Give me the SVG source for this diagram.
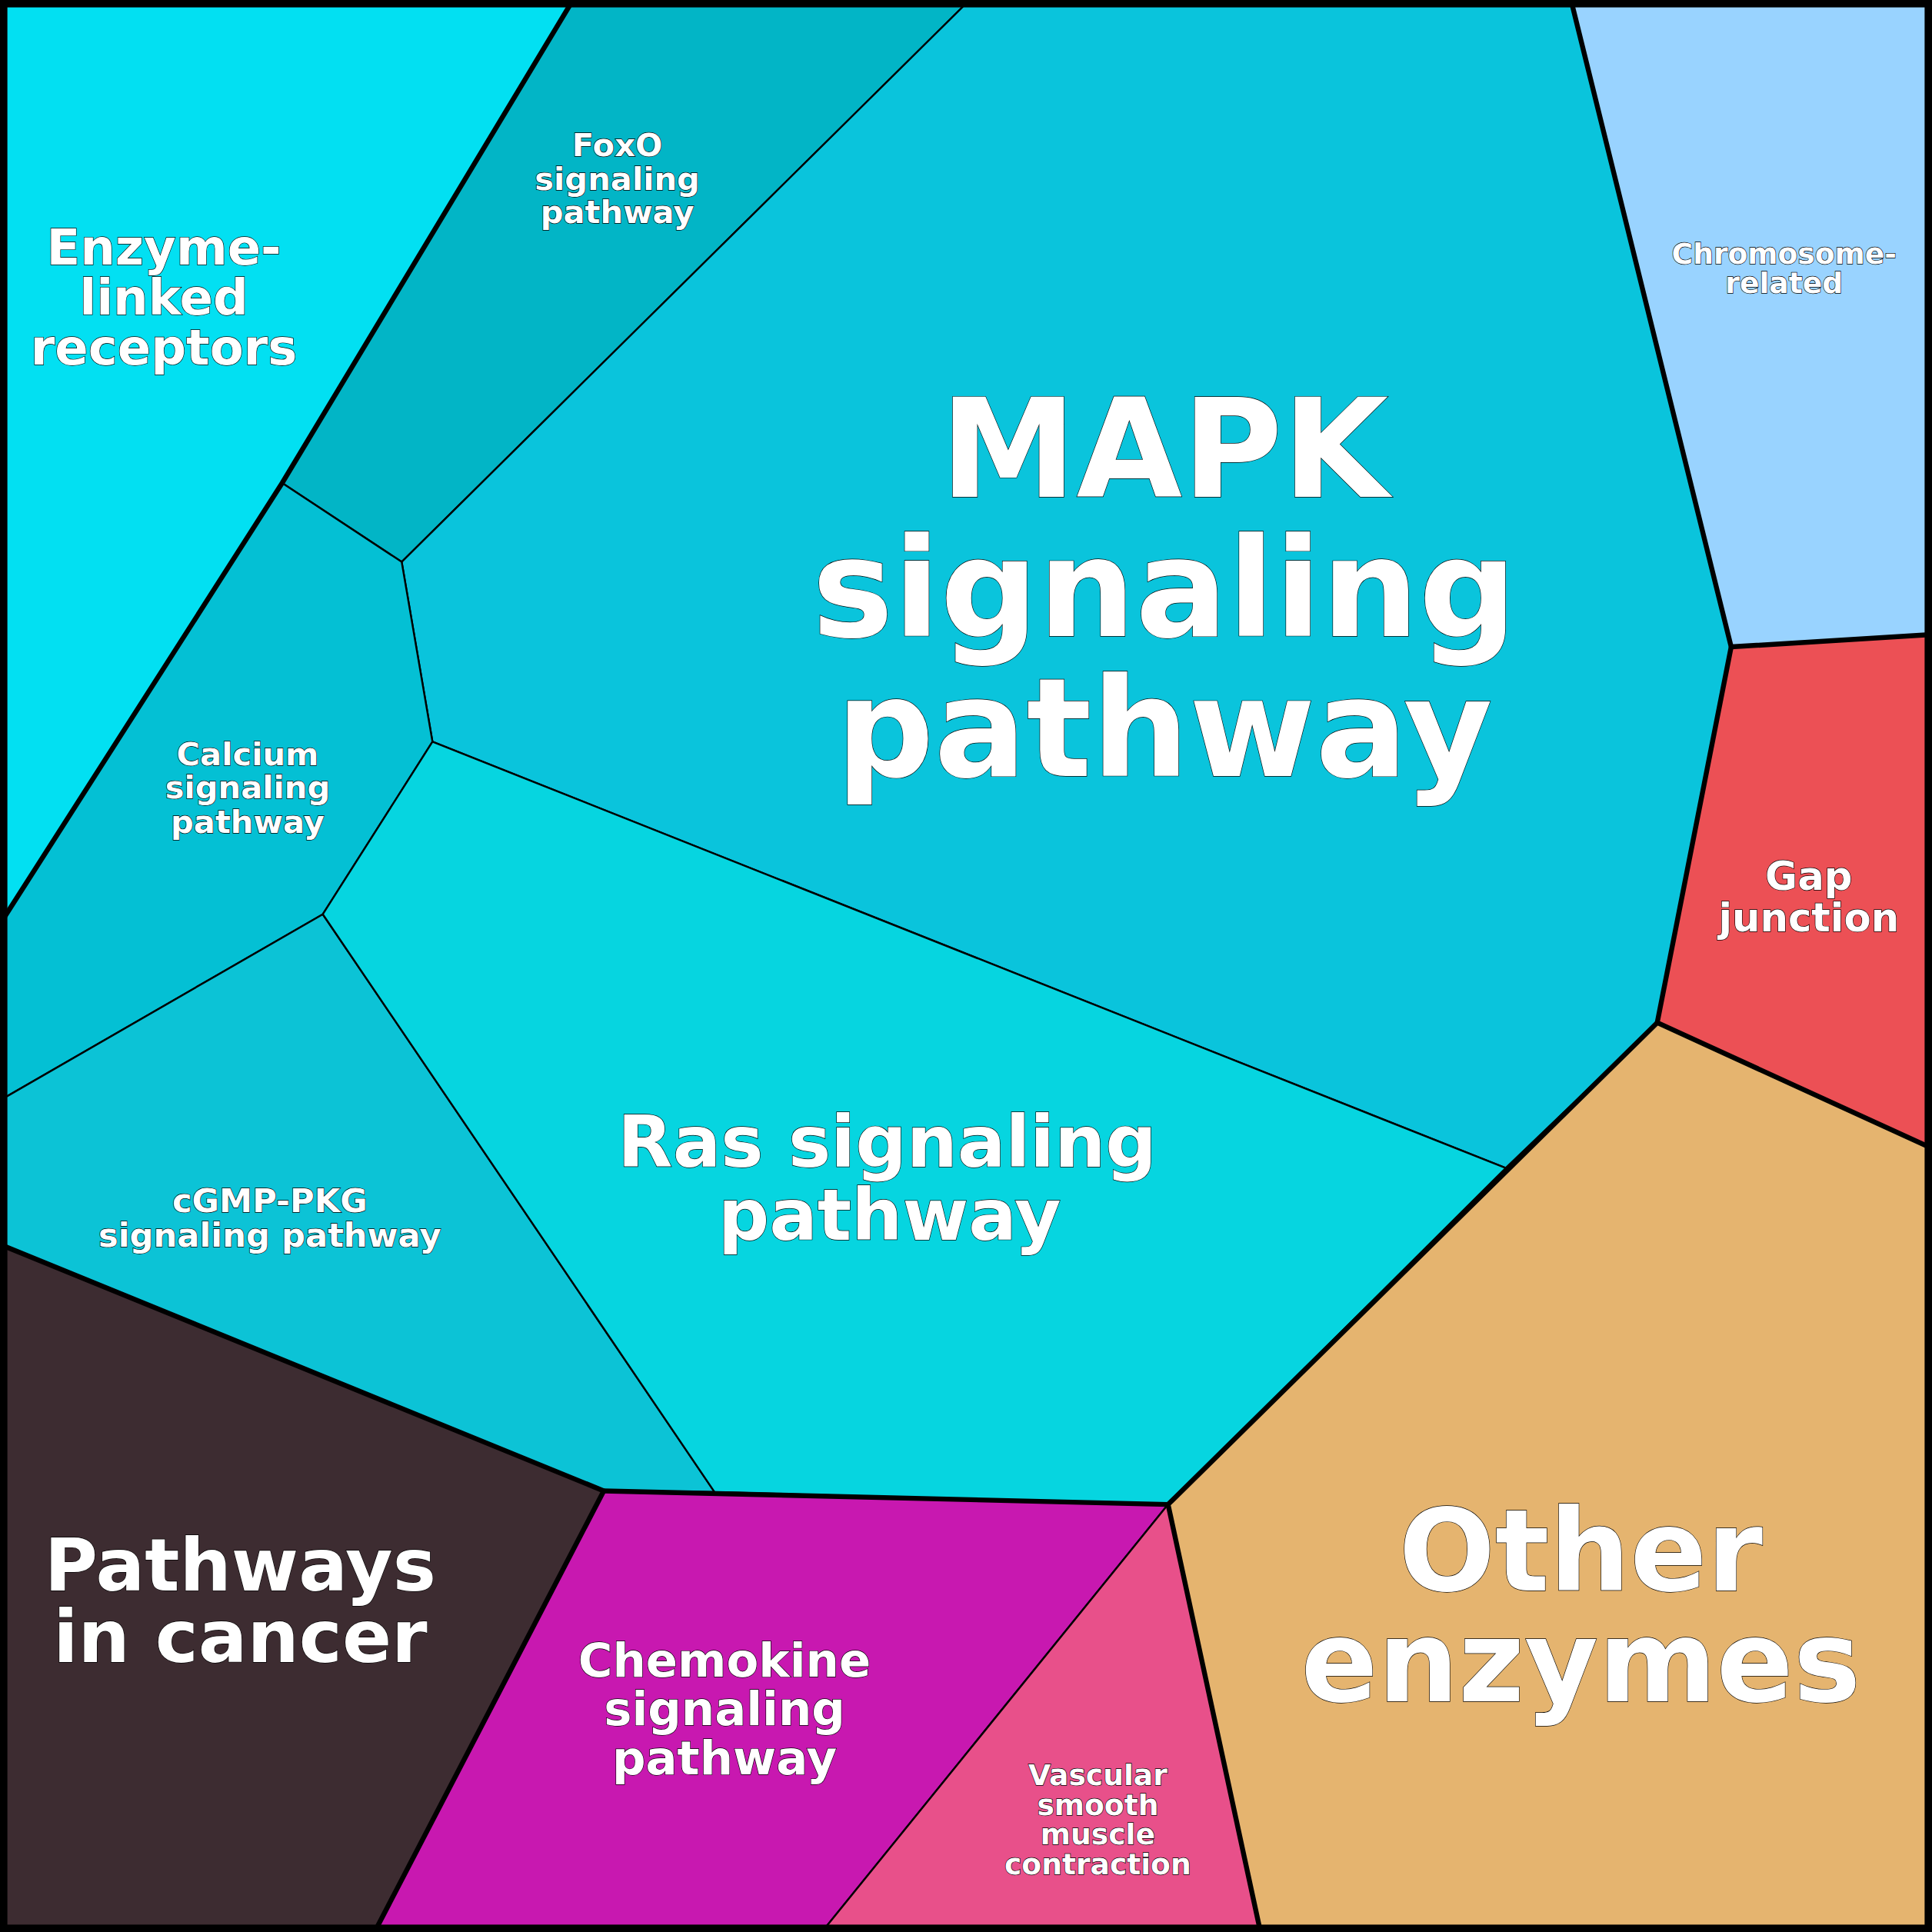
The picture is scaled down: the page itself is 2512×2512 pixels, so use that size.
<svg xmlns="http://www.w3.org/2000/svg" width="2512" height="2512" viewBox="0 0 2512 2512">
<style>
.c{stroke:#000;stroke-width:1.5;stroke-linejoin:round}
.t{font-family:"DejaVu Sans",sans-serif;font-weight:bold;fill:#fff;stroke:#000;stroke-width:0.8;text-anchor:middle;paint-order:stroke}
.b{fill:none;stroke:#000;stroke-width:4;stroke-linejoin:round}
</style>
<g transform="scale(1.602041)">
<g id="enzyme-linked"><polygon class="c" fill="#02e0f2" points="0,0 465,0 229,392 0,750"/><text class="t" font-size="40" x="133" y="215">Enzyme-</text><text class="t" font-size="40" x="133" y="255">linked</text><text class="t" font-size="40" x="133" y="296">receptors</text></g>
<g id="foxo"><polygon class="c" fill="#02b5c6" points="465,0 787,0 326,456 229,392"/><text class="t" font-size="26" x="501" y="127">FoxO</text><text class="t" font-size="26" x="501" y="154">signaling</text><text class="t" font-size="26" x="501" y="181">pathway</text></g>
<g id="mapk"><polygon class="c" fill="#0ac4dc" points="787,0 1275,0 1405,525 1345,830 1222,948 351,602 326,456"/><text class="t" font-size="111" x="945" y="403" stroke-width="1.2">MAPK</text><text class="t" font-size="111" x="945" y="516" stroke-width="1.2">signaling</text><text class="t" font-size="111" x="945" y="630" stroke-width="1.2">pathway</text></g>
<g id="calcium"><polygon class="c" fill="#04c0d4" points="229,392 326,456 351,602 262,742 0,893 0,750"/><text class="t" font-size="26" x="201" y="621">Calcium</text><text class="t" font-size="26" x="201" y="648">signaling</text><text class="t" font-size="26" x="201" y="676">pathway</text></g>
<g id="cgmp"><polygon class="c" fill="#0cc3d6" points="0,893 262,742 580,1211 490,1210 0,1010"/><text class="t" font-size="27" x="219" y="984">cGMP-PKG</text><text class="t" font-size="27" x="219" y="1012">signaling pathway</text></g>
<g id="ras"><polygon class="c" fill="#06d5e0" points="351,602 1222,948 948,1221 580,1211 262,742"/><text class="t" font-size="58" x="720" y="947">Ras signaling</text><text class="t" font-size="58" x="722" y="1006">pathway</text></g>
<g id="chromosome"><polygon class="c" fill="#99d3ff" points="1275,0 1568,0 1568,515 1405,525"/><text class="t" font-size="23.5" x="1448" y="214">Chromosome-</text><text class="t" font-size="23.5" x="1448" y="238">related</text></g>
<g id="gap"><polygon class="c" fill="#ec5055" points="1405,525 1568,515 1568,932 1345,830"/><text class="t" font-size="32" x="1468" y="722">Gap</text><text class="t" font-size="32" x="1468" y="756">junction</text></g>
<g id="other"><polygon class="c" fill="#e5b46f" points="1345,830 1568,932 1568,1568 1023,1568 948,1221"/><text class="t" font-size="92" x="1283" y="1291" stroke-width="1.2">Other</text><text class="t" font-size="92" x="1283" y="1381" stroke-width="1.2">enzymes</text></g>
<g id="cancer"><polygon class="c" fill="#3d2c31" points="0,1010 490,1210 304,1568 0,1568"/><text class="t" font-size="59" x="195" y="1291">Pathways</text><text class="t" font-size="59" x="195" y="1349">in cancer</text></g>
<g id="chemokine"><polygon class="c" fill="#c818b0" points="490,1210 948,1221 667,1568 304,1568"/><text class="t" font-size="38" x="588" y="1361">Chemokine</text><text class="t" font-size="38" x="588" y="1400">signaling</text><text class="t" font-size="38" x="588" y="1440">pathway</text></g>
<g id="vascular"><polygon class="c" fill="#e8508a" points="948,1221 1023,1568 667,1568"/><text class="t" font-size="23.5" x="891" y="1449">Vascular</text><text class="t" font-size="23.5" x="891" y="1473">smooth</text><text class="t" font-size="23.5" x="891" y="1497">muscle</text><text class="t" font-size="23.5" x="891" y="1521">contraction</text></g>
<g id="connectors">
<polyline class="b" stroke-width="2.5" points="465,0 229,392 0,750"/>
<polyline class="b" points="1275,0 1405,525 1568,515"/>
<polyline class="b" points="1405,525 1345,830 1568,932"/>
<polyline class="b" points="1345,830 948,1221 1023,1568"/>
<polyline class="b" points="0,1010 490,1210 304,1568"/>
<polyline class="b" stroke-width="3" points="490,1210 948,1221"/>
<rect x="3" y="3" width="1562" height="1562" fill="none" stroke="#000" stroke-width="6"/>
</g>
</g>
</svg>
